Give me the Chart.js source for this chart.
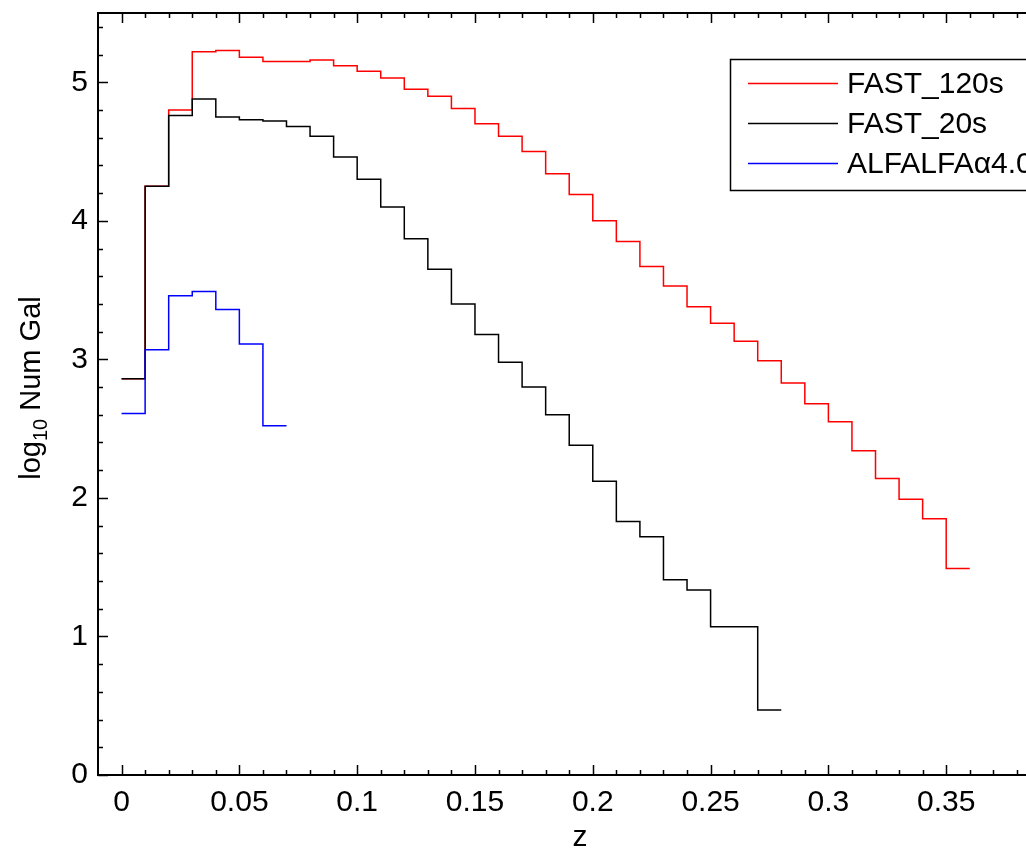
<!DOCTYPE html>
<html>
<head>
<meta charset="utf-8">
<script src="https://cdn.jsdelivr.net/npm/chart.js@4.4.1/dist/chart.umd.min.js"></script>
<style>
  html, body { margin: 0; padding: 0; background: #fff; overflow: hidden; }
  #wrap { width: 1026px; height: 848px; overflow: hidden; }
</style>
</head>
<body>
<div id="wrap"><canvas id="chart" width="1070" height="848"></canvas></div>
<script>
// bin edges in z (width 0.01)
const binEdges = [0, 0.01, 0.02, 0.03, 0.04, 0.05, 0.06, 0.07, 0.08, 0.09,
  0.10, 0.11, 0.12, 0.13, 0.14, 0.15, 0.16, 0.17, 0.18, 0.19,
  0.20, 0.21, 0.22, 0.23, 0.24, 0.25, 0.26, 0.27, 0.28, 0.29,
  0.30, 0.31, 0.32, 0.33, 0.34, 0.35, 0.36];

// log10 number of galaxies per bin
const fast120 = [2.86, 4.25, 4.80, 5.22, 5.23, 5.18, 5.15, 5.15, 5.16, 5.12,
  5.08, 5.03, 4.95, 4.90, 4.81, 4.70, 4.61, 4.50, 4.34, 4.19,
  4.00, 3.85, 3.67, 3.53, 3.38, 3.26, 3.13, 2.99, 2.83, 2.68,
  2.55, 2.34, 2.14, 1.99, 1.85, 1.49];
const fast20 = [2.86, 4.25, 4.76, 4.88, 4.75, 4.73, 4.72, 4.68, 4.61, 4.46,
  4.30, 4.10, 3.87, 3.65, 3.40, 3.18, 2.98, 2.80, 2.60, 2.38,
  2.12, 1.83, 1.72, 1.41, 1.335, 1.07, 1.07, 0.47];
const alfalfa = [2.61, 3.07, 3.46, 3.49, 3.36, 3.11, 2.52];

const seriesNames = ['FAST_120s', 'FAST_20s', 'ALFALFAα4.0'];
const seriesColors = ['#ff0000', '#000000', '#0000ff'];

const xTicks = [0, 0.05, 0.1, 0.15, 0.2, 0.25, 0.3, 0.35];
const yTicks = [0, 1, 2, 3, 4, 5];

const FONT = '"Liberation Sans", Arial, Helvetica, sans-serif';
const FS = 30;

// step outline: each bin value held from its left edge to the next edge
function stairs(values) {
  const pts = values.map((v, i) => ({ x: binEdges[i], y: v }));
  pts.push({ x: binEdges[values.length], y: values[values.length - 1] });
  return pts;
}

const allSeries = [fast120, fast20, alfalfa];

const frame = {
  id: 'frame',
  afterDraw(chart) {
    const { ctx, chartArea: a, scales: { x, y } } = chart;
    ctx.save();
    ctx.strokeStyle = '#000';
    ctx.lineWidth = 2;
    ctx.strokeRect(a.left, a.top, a.right - a.left, a.bottom - a.top);

    ctx.lineWidth = 1.5;
    ctx.beginPath();
    for (let i = 0; i <= 40; i++) {
      const px = Math.round(x.getPixelForValue(i / 100)) + 0.5;
      const len = i % 5 === 0 ? 10 : 5;
      ctx.moveTo(px, a.bottom); ctx.lineTo(px, a.bottom - len);
      ctx.moveTo(px, a.top); ctx.lineTo(px, a.top + len);
    }
    for (let i = 0; i <= 27; i++) {
      const py = Math.round(y.getPixelForValue(i / 5)) + 0.5;
      const len = i % 5 === 0 ? 10 : 5;
      ctx.moveTo(a.left, py); ctx.lineTo(a.left + len, py);
      ctx.moveTo(a.right, py); ctx.lineTo(a.right - len, py);
    }
    ctx.stroke();

    // axis titles
    ctx.fillStyle = '#000';
    ctx.font = FS + 'px ' + FONT;
    ctx.textAlign = 'center';
    ctx.textBaseline = 'alphabetic';
    ctx.fillText('z', (a.left + a.right) / 2 - 1, 846);

    ctx.save();
    ctx.translate(40, 388);
    ctx.rotate(-Math.PI / 2);
    ctx.textAlign = 'left';
    const big = '29px ' + FONT, small = '20px ' + FONT;
    ctx.font = big; const w1 = ctx.measureText('log').width;
    ctx.font = small; const w2 = ctx.measureText('10').width;
    ctx.font = big; const w3 = ctx.measureText(' Num Gal').width;
    let cx = -(w1 + w2 + w3) / 2;
    ctx.font = big; ctx.fillText('log', cx, 0); cx += w1;
    ctx.font = small; ctx.fillText('10', cx, 7); cx += w2;
    ctx.font = big; ctx.fillText(' Num Gal', cx, 0);
    ctx.restore();

    // legend box
    ctx.fillStyle = '#fff';
    ctx.fillRect(730, 59, 400, 131);
    ctx.lineWidth = 1.5;
    ctx.strokeStyle = '#000';
    ctx.strokeRect(730.5, 59.5, 400, 131);
    ctx.font = FS + 'px ' + FONT;
    ctx.textAlign = 'left';
    ctx.textBaseline = 'middle';
    seriesNames.forEach((name, i) => {
      const ly = 83 + i * 40;
      ctx.strokeStyle = seriesColors[i];
      ctx.beginPath();
      ctx.moveTo(748, ly + 0.5); ctx.lineTo(838, ly + 0.5);
      ctx.stroke();
      ctx.fillStyle = '#000';
      ctx.fillText(name, 847, ly + 2);
    });
    ctx.restore();
  }
};

new Chart(document.getElementById('chart'), {
  type: 'line',
  data: {
    datasets: allSeries.map((vals, i) => ({
      label: seriesNames[i],
      data: stairs(vals),
      borderColor: seriesColors[i],
      borderWidth: 1.5,
      pointRadius: 0,
      stepped: true,
      fill: false,
      order: 3 - i
    }))
  },
  options: {
    responsive: false,
    animation: false,
    devicePixelRatio: 1,
    layout: { padding: { top: 13, right: 6, left: 0, bottom: 0 } },
    plugins: { legend: { display: false }, tooltip: { enabled: false } },
    scales: {
      x: {
        type: 'linear',
        min: -0.01,
        max: 0.4,
        grid: { display: false, drawTicks: false },
        border: { display: false },
        afterBuildTicks: s => { s.ticks = xTicks.map(v => ({ value: v })); },
        afterFit: s => { s.height = 73; s.paddingLeft = 0; s.paddingRight = 0; },
        ticks: {
          padding: 10,
          maxRotation: 0,
          autoSkip: false,
          color: '#000',
          font: { size: FS, family: FONT },
          callback: v => String(+v.toFixed(2))
        }
      },
      y: {
        type: 'linear',
        min: 0,
        max: 5.5,
        grid: { display: false, drawTicks: false },
        border: { display: false },
        afterBuildTicks: s => { s.ticks = yTicks.map(v => ({ value: v })); },
        afterFit: s => { s.width = 98; s.paddingTop = 0; s.paddingBottom = 0; },
        ticks: {
          padding: 10,
          autoSkip: false,
          color: '#000',
          font: { size: FS, family: FONT },
          callback: v => String(v)
        }
      }
    }
  },
  plugins: [frame]
});
</script>
</body>
</html>
